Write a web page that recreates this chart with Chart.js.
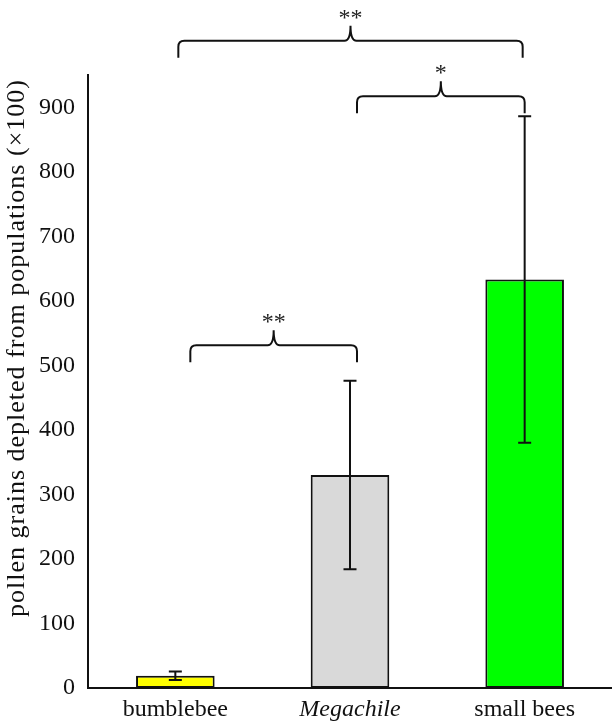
<!DOCTYPE html>
<html>
<head>
<meta charset="utf-8">
<script src="https://cdn.jsdelivr.net/npm/chart.js@4/dist/chart.umd.min.js"></script>
<style>
html,body{margin:0;padding:0;background:#fff;}
canvas{display:block;}
</style>
</head>
<body>
<canvas id="c" width="612" height="721"></canvas>
<script>
// ---- data ----
const categories = ['bumblebee', 'Megachile', 'small bees'];
const meanValues = [19, 330, 633];
const errorValues = [6.5, 146, 253];
const barColors = ['#ffff00', '#d9d9d9', '#00ff00'];
const yTicks = [0, 100, 200, 300, 400, 500, 600, 700, 800, 900];
const bracketFrom = [0, 1, 0];
const bracketTo = [1, 2, 2];
const bracketLevel = [531, 917, 1003];
const bracketLabel = ['**', '*', '**'];
const yTitle = 'pollen grains depleted from populations (\u00d7100)';

const FONT = '"Liberation Serif", "Times New Roman", serif';
const FS = 24;

const overlay = {
  id: 'overlay',
  afterDatasetsDraw(chart) {
    const ctx = chart.ctx;
    const x = chart.scales.x, y = chart.scales.y;
    ctx.save();
    // error bars
    ctx.strokeStyle = '#111';
    ctx.lineWidth = 2;
    meanValues.forEach((m, i) => {
      const cx = x.getPixelForValue(i);
      const yt = y.getPixelForValue(m + errorValues[i]);
      const yb = y.getPixelForValue(m - errorValues[i]);
      ctx.beginPath();
      ctx.moveTo(cx, yt); ctx.lineTo(cx, yb);
      ctx.moveTo(cx - 6.5, yt); ctx.lineTo(cx + 6.5, yt);
      ctx.moveTo(cx - 6.5, yb); ctx.lineTo(cx + 6.5, yb);
      ctx.stroke();
    });
    // brackets
    const leftOff = [15, 7, 3];
    const rightOff = [7, 0, -2];
    bracketLevel.forEach((lv, k) => {
      const x1 = x.getPixelForValue(bracketFrom[k]) + leftOff[k];
      const x2 = x.getPixelForValue(bracketTo[k]) + rightOff[k];
      const yh = y.getPixelForValue(lv);
      const ye = yh + 17, tip = 15, r = 6;
      const xm = (x1 + x2) / 2;
      ctx.beginPath();
      ctx.moveTo(x1, ye);
      ctx.lineTo(x1, yh + r);
      ctx.quadraticCurveTo(x1, yh, x1 + r, yh);
      ctx.lineTo(xm - r, yh);
      ctx.quadraticCurveTo(xm, yh, xm, yh - tip);
      ctx.quadraticCurveTo(xm, yh, xm + r, yh);
      ctx.lineTo(x2 - r, yh);
      ctx.quadraticCurveTo(x2, yh, x2, yh + r);
      ctx.lineTo(x2, ye);
      ctx.stroke();
      ctx.fillStyle = '#222';
      ctx.font = '24px ' + FONT;
      ctx.textAlign = 'center';
      ctx.textBaseline = 'alphabetic';
      ctx.fillText(bracketLabel[k], xm, yh - tip - 1);
    });
    // y-axis title
    ctx.translate(17, 348);
    ctx.rotate(-Math.PI / 2);
    ctx.fillStyle = '#111';
    ctx.font = '26px ' + FONT;
    ctx.letterSpacing = '1px';
    ctx.textAlign = 'center';
    ctx.textBaseline = 'middle';
    ctx.fillText(yTitle, 0, 0);
    ctx.restore();
  }
};

new Chart(document.getElementById('c'), {
  type: 'bar',
  data: {
    labels: categories,
    datasets: [{
      data: meanValues,
      backgroundColor: barColors,
      borderColor: '#111',
      borderWidth: 2,
      borderSkipped: false,
      barPercentage: 0.45,
      categoryPercentage: 1
    }]
  },
  options: {
    responsive: false,
    animation: false,
    devicePixelRatio: 1,
    layout: { padding: { top: 75, left: 0, right: 0, bottom: 0 } },
    plugins: { legend: { display: false }, tooltip: { enabled: false } },
    scales: {
      x: {
        grid: { display: false },
        border: { display: true, color: '#111', width: 2 },
        ticks: {
          color: '#111',
          padding: -1,
          font: (c) => ({ family: FONT, size: FS, style: c.index === 1 ? 'italic' : 'normal' })
        },
        afterFit(s) { s.height = 33; }
      },
      y: {
        min: 0, max: 950,
        grid: { display: false },
        border: { display: true, color: '#111', width: 2 },
        afterBuildTicks(s) { s.ticks = yTicks.map(v => ({ value: v })); },
        ticks: { color: '#111', padding: 5, font: { family: FONT, size: FS } },
        title: { display: false },
        afterFit(s) { s.width = 88; }
      }
    }
  },
  plugins: [overlay]
});
</script>
</body>
</html>
